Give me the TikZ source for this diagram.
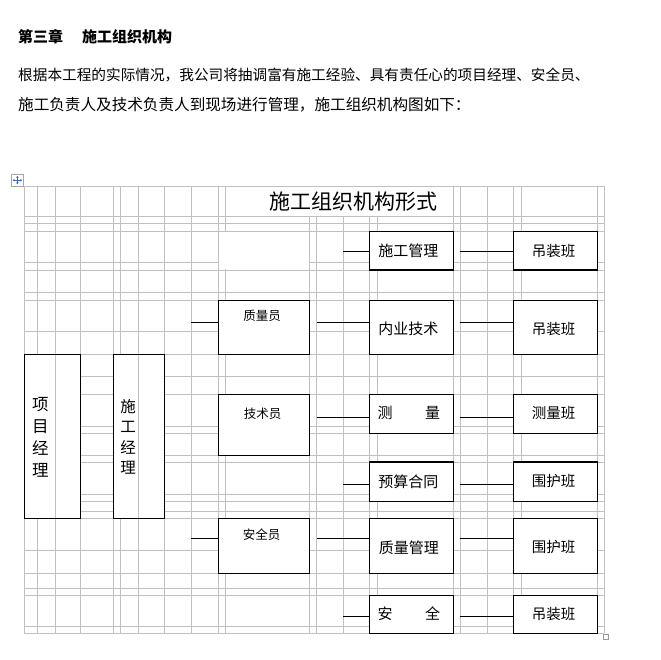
\documentclass[tikz,border=0pt]{standalone}
\usepackage{fontspec}
\setmainfont{Noto Sans CJK SC}
\usetikzlibrary{arrows.meta}
\definecolor{gridgray}{RGB}{192,192,192}
\definecolor{iconblue}{RGB}{60,100,200}
\begin{document}
\begin{tikzpicture}[x=1pt,y=-1pt,
  gridline/.style={draw=gridgray, line width=0.9pt},
  box/.style={draw=black, line width=1.2pt, fill=white, inner sep=0pt, rectangle},
  conn/.style={draw=black, line width=1.1pt},
  txt/.style={inner sep=0pt, text=black},
  fA/.style={font=\fontsize{15}{15}\selectfont},
  fB/.style={font=\fontsize{14.5}{14.5}\selectfont},
  fC/.style={font=\fontsize{12.5}{12.5}\selectfont}]
\useasboundingbox (0,0) rectangle (661,659);

% heading and paragraph
\node[txt, anchor=west, font=\fontsize{15}{15}\selectfont\bfseries] (head) at (18,37) {第三章\hspace{19pt}施工组织机构};
\node[txt, anchor=west, font=\fontsize{14.65}{14.65}\selectfont] (para1) at (18,75) {根据本工程的实际情况，我公司将抽调富有施工经验、具有责任心的项目经理、安全员、};
\node[txt, anchor=west, font=\fontsize{15.6}{15.6}\selectfont] (para2) at (18,105) {施工负责人及技术负责人到现场进行管理，施工组织机构图如下：};

% table grid
\foreach \x in {24.3,37.3,55.3,80.3,113.7,120.3,138.3,164.7,191.3,218.3,225.5,309.5,316.5,343.3,369.3,377.3,453.3,460.3,487.3,513.3,521.3,597.3,604}
  \draw[gridline] (\x,186) -- (\x,633.3);
\foreach \y in {186,216.3,223.3,231.3,262.3,270,292.7,300.3,331.7,354.3,376.7,394.3,426.7,433.3,455.3,462,494.3,501.5,511.7,518.3,550,573.3,588.3,595.3,626.7,633.3}
  \draw[gridline] (24.3,\y) -- (604,\y);
% merged cells
\fill[white] (226.2,186.7) rectangle (452.6,215.6);
\fill[white] (219.0,232.0) rectangle (308.8,269.3);

% table move handle and resize handle
\draw[draw=gray!70, fill=white, line width=0.6pt] (11,174.3) rectangle (23.7,186);
\draw[iconblue, line width=0.7pt, {Stealth[length=2pt,width=2.4pt]}-{Stealth[length=2pt,width=2.4pt]}] (12.6,180.15) -- (22.1,180.15);
\draw[iconblue, line width=0.7pt, {Stealth[length=2pt,width=2.4pt]}-{Stealth[length=2pt,width=2.4pt]}] (17.35,175.9) -- (17.35,184.4);
\draw[draw=gray!80, fill=white, line width=0.6pt] (603.3,634.3) rectangle (608.3,639.3);

% title
\node[txt, font=\fontsize{21}{21}\selectfont] (title) at (353,201.5) {施工组织机构形式};

% boxes
\node[box, minimum width=56pt, minimum height=164pt] (xmjl) at (52.3,436.3) {};
\node[box, minimum width=51pt, minimum height=164pt] (sgjl) at (139.2,436.3) {};
\draw[gridline] (55.3,355) -- (55.3,517.6);
\draw[gridline] (138.3,355) -- (138.3,517.6);

\node[box, minimum width=91.2pt, minimum height=54pt] (zly) at (263.9,327.3) {};
\node[box, minimum width=91.2pt, minimum height=61pt] (jsy) at (263.9,424.8) {};
\node[box, minimum width=91.2pt, minimum height=55pt] (aqy) at (263.9,545.8) {};

\node[box, minimum width=84pt, minimum height=38.7pt] (sggl) at (411.3,250.65) {};
\node[box, minimum width=84pt, minimum height=54pt] (nyjs) at (411.3,327.3) {};
\node[box, minimum width=84pt, minimum height=39pt] (cl) at (411.3,413.8) {};
\node[box, minimum width=84pt, minimum height=39.3pt] (ysht) at (411.3,481.65) {};
\node[box, minimum width=84pt, minimum height=55pt] (zlgl) at (411.3,545.8) {};
\node[box, minimum width=84pt, minimum height=38pt] (aq) at (411.3,614.3) {};

\node[box, minimum width=84pt, minimum height=38.7pt] (dz1) at (555.3,250.65) {};
\node[box, minimum width=84pt, minimum height=54pt] (dz2) at (555.3,327.3) {};
\node[box, minimum width=84pt, minimum height=39pt] (clb) at (555.3,413.8) {};
\node[box, minimum width=84pt, minimum height=39.3pt] (whb1) at (555.3,481.65) {};
\node[box, minimum width=84pt, minimum height=55pt] (whb2) at (555.3,545.8) {};
\node[box, minimum width=84pt, minimum height=38pt] (dz3) at (555.3,614.3) {};

% box texts
\node[txt, align=center, font=\fontsize{16.5}{22.2}\selectfont] (txmjl) at (40.3,437.5) {项\\目\\经\\理};
\node[txt, align=center, font=\fontsize{15.5}{20.5}\selectfont] (tsgjl) at (128,436.8) {施\\工\\经\\理};
\node[txt, fC] (tzly) at (262,316) {质量员};
\node[txt, fC] (tjsy) at (262.5,414) {技术员};
\node[txt, fC] (taqy) at (261.5,535) {安全员};

\node[txt, fA] (tsggl) at (408.3,251) {施工管理};
\node[txt, fA] (tnyjs) at (408.3,329) {内业技术};
\node[txt, fA, anchor=west] (tcl) at (377.5,412.8) {测\hspace{32.5pt}量};
\node[txt, fA] (tysht) at (408.3,481.3) {预算合同};
\node[txt, fA] (tzlgl) at (408.8,547.5) {质量管理};
\node[txt, fA, anchor=west] (taq) at (377.5,614) {安\hspace{32.5pt}全};

\node[txt, fB] (tdz1) at (553.5,251) {吊装班};
\node[txt, fB] (tdz2) at (553.5,329) {吊装班};
\node[txt, fB] (tclb) at (553.5,413) {测量班};
\node[txt, fB] (twhb1) at (553.5,481.3) {围护班};
\node[txt, fB] (twhb2) at (553.5,547.3) {围护班};
\node[txt, fB] (tdz3) at (553.5,614) {吊装班};

% connectors
\coordinate (a1) at (343.3,251.7);
\coordinate (b1) at (460.3,251.7);
\draw[conn] (a1) -- (a1 -| sggl.west);
\draw[conn] (b1) -- (b1 -| dz1.west);

\coordinate (a2) at (191.3,322.3);
\coordinate (m2) at (316.5,322.3);
\coordinate (b2) at (460.3,322.3);
\draw[conn] (a2) -- (a2 -| zly.west);
\draw[conn] (m2) -- (m2 -| nyjs.west);
\draw[conn] (b2) -- (b2 -| dz2.west);

\coordinate (m3) at (316.5,417.3);
\coordinate (b3) at (460.3,417.3);
\draw[conn] (m3) -- (m3 -| cl.west);
\draw[conn] (b3) -- (b3 -| clb.west);

\coordinate (a4) at (343.3,484.3);
\coordinate (b4) at (460.3,484.3);
\draw[conn] (a4) -- (a4 -| ysht.west);
\draw[conn] (b4) -- (b4 -| whb1.west);

\coordinate (a5) at (191.3,538.3);
\coordinate (m5) at (316.5,538.3);
\coordinate (b5) at (460.3,538.3);
\draw[conn] (a5) -- (a5 -| aqy.west);
\draw[conn] (m5) -- (m5 -| zlgl.west);
\draw[conn] (b5) -- (b5 -| whb2.west);

\coordinate (a6) at (343.3,616.3);
\coordinate (b6) at (460.3,616.3);
\draw[conn] (a6) -- (a6 -| aq.west);
\draw[conn] (b6) -- (b6 -| dz3.west);
\end{tikzpicture}
\end{document}
